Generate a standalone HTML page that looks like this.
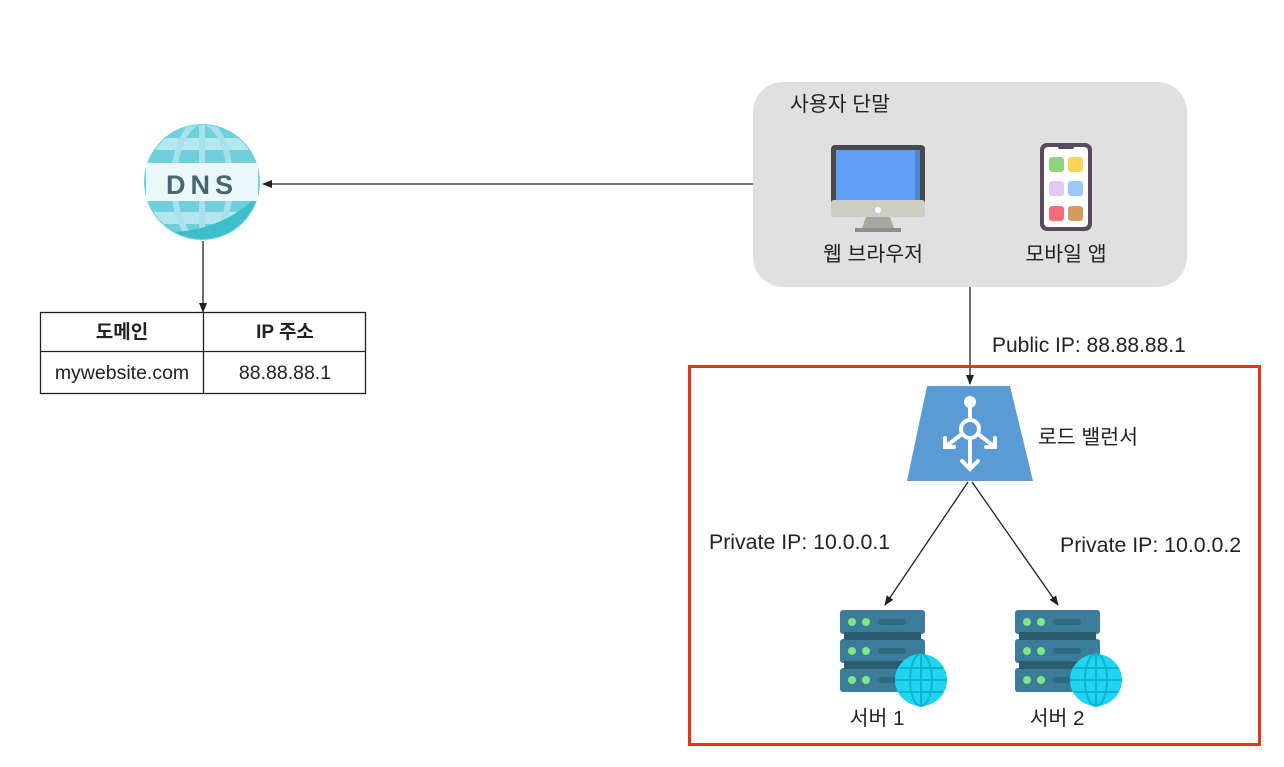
<!DOCTYPE html>
<html><head><meta charset="utf-8"><style>
body{margin:0;background:#fff;}
svg text{font-family:"Liberation Sans","Noto Sans CJK KR",sans-serif;fill:#222;}
</style></head><body>
<svg width="1284" height="762" viewBox="0 0 1284 762" xmlns="http://www.w3.org/2000/svg">
<defs>
<marker id="ah" markerWidth="10" markerHeight="10" refX="9" refY="5" orient="auto" markerUnits="userSpaceOnUse"><path d="M0,1 L10,5 L0,9 z" fill="#222"/></marker>
<clipPath id="gc"><circle cx="202" cy="182" r="57"/></clipPath>
<g id="srv">
 <rect x="0" y="0" width="85" height="24" rx="3" fill="#3b7d99"/>
 <rect x="0" y="29" width="85" height="24" rx="3" fill="#3b7d99"/>
 <rect x="0" y="58" width="85" height="24" rx="3" fill="#3b7d99"/>
 <rect x="4" y="22" width="77" height="8" fill="#2a5b6e"/>
 <rect x="4" y="51" width="77" height="8" fill="#2a5b6e"/>
 <g fill="#7ee787"><circle cx="12" cy="12" r="4"/><circle cx="26" cy="12" r="4"/><circle cx="12" cy="41" r="4"/><circle cx="26" cy="41" r="4"/><circle cx="12" cy="70" r="4"/><circle cx="26" cy="70" r="4"/></g>
 <g fill="#2d6a82"><rect x="38" y="9" width="28" height="6" rx="3"/><rect x="38" y="38" width="28" height="6" rx="3"/><rect x="38" y="67" width="28" height="6" rx="3"/></g>
 <circle cx="81" cy="70" r="26" fill="#1fd6f0"/>
 <g stroke="#0fb2cc" stroke-width="2" fill="none"><ellipse cx="81" cy="70" rx="11" ry="26"/><line x1="81" y1="44" x2="81" y2="96"/><line x1="55" y1="70" x2="107" y2="70"/><line x1="59" y1="58" x2="103" y2="58"/><line x1="59" y1="82" x2="103" y2="82"/></g>
</g>
</defs>
<rect x="753" y="82" width="434" height="205" rx="30" fill="#e0e0e0"/>
<text x="790" y="111" font-size="20.5">사용자 단말</text>
<rect x="831" y="145" width="94" height="65" rx="4" fill="#4a4a4a"/>
<rect x="836" y="150" width="84" height="50" fill="#5fa0f5"/>
<rect x="915" y="150" width="5" height="50" fill="#4a86d4"/>
<rect x="831" y="200" width="94" height="17" rx="3" fill="#cfccc4"/>
<circle cx="878" cy="210" r="3" fill="#fff"/>
<path d="M866,217 L890,217 L894,228 L862,228 z" fill="#a9a7a0"/>
<rect x="855" y="228" width="46" height="4" fill="#8f8d87"/>
<text x="873" y="261" font-size="20.5" text-anchor="middle">웹 브라우저</text>
<rect x="1040" y="143" width="52" height="88" rx="7" fill="#5a4a5e"/>
<rect x="1044" y="147" width="44" height="80" rx="4" fill="#fff"/>
<rect x="1058" y="145" width="16" height="4" rx="2" fill="#5a4a5e"/>
<rect x="1049" y="157" width="15" height="15" rx="3" fill="#8ed47e"/>
<rect x="1068" y="157" width="15" height="15" rx="3" fill="#ffd25a"/>
<rect x="1049" y="181" width="15" height="15" rx="3" fill="#e3c8f6"/>
<rect x="1068" y="181" width="15" height="15" rx="3" fill="#9cc9f7"/>
<rect x="1049" y="206" width="15" height="15" rx="3" fill="#f86c78"/>
<rect x="1068" y="206" width="15" height="15" rx="3" fill="#d59a5c"/>
<text x="1066" y="261" font-size="20.5" text-anchor="middle">모바일 앱</text>
<circle cx="202" cy="182" r="58" fill="#6fcfdc"/>
<g clip-path="url(#gc)">
<rect x="140" y="138" width="124" height="12" fill="#b3e6ee"/>
<rect x="140" y="212" width="124" height="12" fill="#b3e6ee"/>
<ellipse cx="202" cy="182" rx="28" ry="60" fill="none" stroke="#a8e1ea" stroke-width="6"/>
<line x1="202" y1="120" x2="202" y2="245" stroke="#a8e1ea" stroke-width="6"/>
<path d="M175,232 Q230,228 262,190 L262,250 L175,250 z" fill="#3fbfcc"/>
</g>
<rect x="146" y="163" width="112" height="38" fill="#eaf8fa"/>
<text x="202" y="194" font-size="27" font-weight="bold" text-anchor="middle" style="fill:#4a6470;letter-spacing:5px">DNS</text>
<line x1="753" y1="184" x2="263" y2="184" stroke="#222" stroke-width="1.3" marker-end="url(#ah)"/>
<line x1="203" y1="241" x2="203" y2="312" stroke="#222" stroke-width="1.3" marker-end="url(#ah)"/>
<rect x="40.5" y="312.5" width="325" height="81" fill="#fff" stroke="#222" stroke-width="1.3"/>
<line x1="40" y1="351.5" x2="366" y2="351.5" stroke="#222" stroke-width="1.3"/>
<line x1="203.5" y1="312" x2="203.5" y2="394" stroke="#222" stroke-width="1.3"/>
<text x="122" y="338" font-size="19" font-weight="bold" text-anchor="middle">도메인</text>
<text x="285" y="338" font-size="19" font-weight="bold" text-anchor="middle">IP 주소</text>
<text x="122" y="379" font-size="19.5" text-anchor="middle">mywebsite.com</text>
<text x="285" y="379" font-size="19.5" text-anchor="middle">88.88.88.1</text>
<line x1="970" y1="287" x2="970" y2="384" stroke="#222" stroke-width="1.3" marker-end="url(#ah)"/>
<text x="992" y="352" font-size="21">Public IP: 88.88.88.1</text>
<rect x="689.5" y="366.5" width="570" height="378" fill="none" stroke="#e8321e" stroke-width="3"/>
<path d="M927,386 L1010,386 L1033,481 L907,481 z" fill="#5b9bd5"/>
<g stroke="#fff" stroke-width="4" fill="none" stroke-linecap="round">
<circle cx="970" cy="429" r="9"/>
<line x1="970" y1="405" x2="970" y2="420"/>
<line x1="970" y1="438" x2="970" y2="468"/>
<polyline points="962,461 970,469 978,461"/>
<line x1="962" y1="434" x2="945" y2="447"/>
<polyline points="945,438 945,447 954,447"/>
<line x1="978" y1="434" x2="995" y2="447"/>
<polyline points="995,438 995,447 986,447"/>
</g>
<circle cx="970" cy="402" r="6" fill="#fff"/>
<text x="1038" y="444" font-size="20.5">로드 밸런서</text>
<line x1="968" y1="482" x2="885" y2="605" stroke="#222" stroke-width="1.3" marker-end="url(#ah)"/>
<line x1="972" y1="482" x2="1058" y2="605" stroke="#222" stroke-width="1.3" marker-end="url(#ah)"/>
<text x="709" y="549" font-size="21.3">Private IP: 10.0.0.1</text>
<text x="1060" y="552" font-size="21.3">Private IP: 10.0.0.2</text>
<use href="#srv" x="840" y="610"/>
<use href="#srv" x="1015" y="610"/>
<text x="877" y="725" font-size="20.5" text-anchor="middle">서버 1</text>
<text x="1057" y="725" font-size="20.5" text-anchor="middle">서버 2</text>
</svg>
</body></html>
